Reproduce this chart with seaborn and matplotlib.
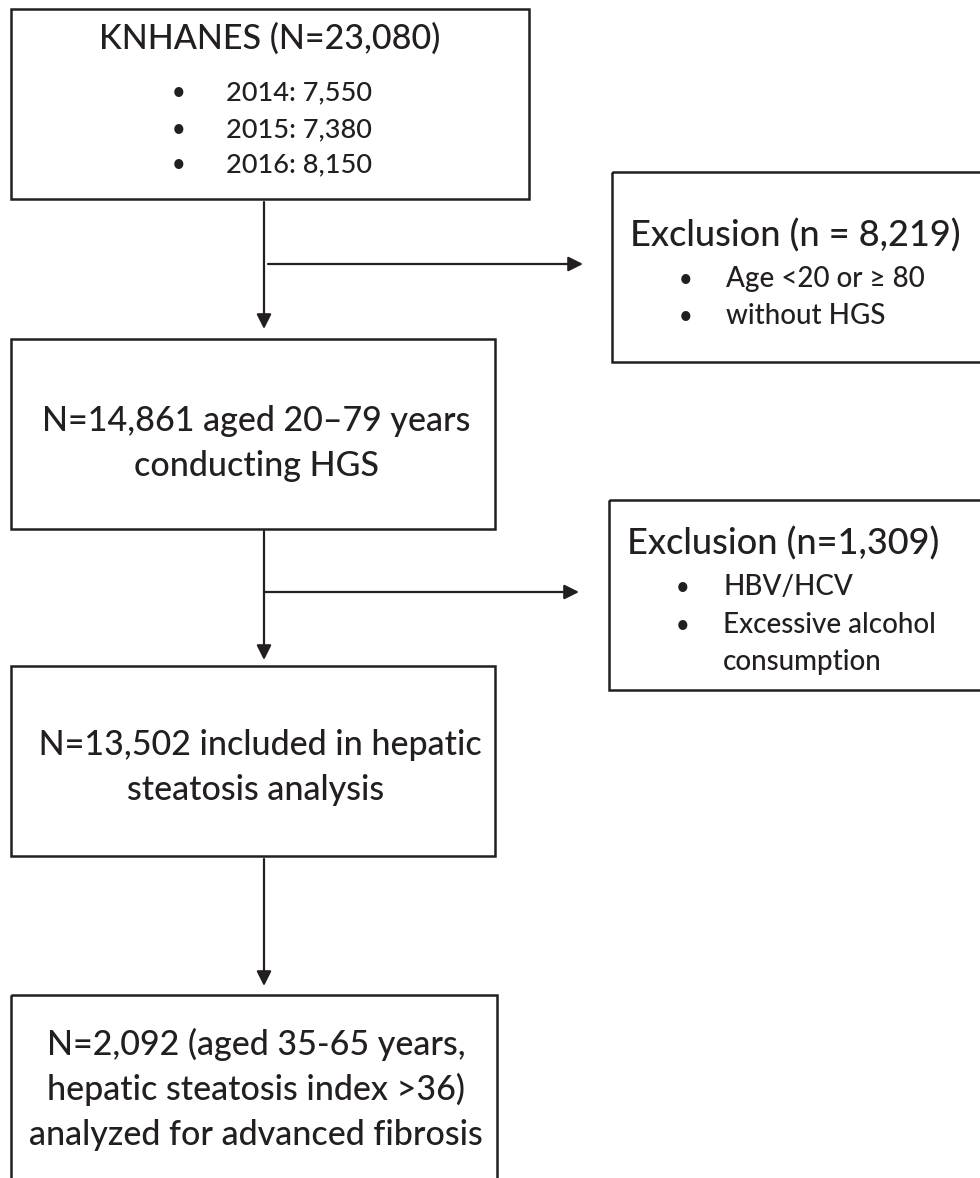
import matplotlib
matplotlib.use("Agg")
import matplotlib.pyplot as plt
from matplotlib.patches import Rectangle
import seaborn as sns

# texts of the flow chart
source_title = "KNHANES (N=23,080)"
source_years = ["2014: 7,550", "2015: 7,380", "2016: 8,150"]

step_lines = [
    ["N=14,861 aged 20\u201379 years", "conducting HGS"],
    [" N=13,502 included in hepatic", "steatosis analysis"],
    ["N=2,092 (aged 35-65 years,", "hepatic steatosis index >36)",
     "analyzed for advanced fibrosis"],
]

excl_titles = ["Exclusion (n = 8,219)", "Exclusion (n=1,309)"]
# each bullet item may wrap over several lines
excl_items = [
    [["Age <20 or \u2265 80"], ["without HGS"]],
    [["HBV/HCV"], ["Excessive alcohol", "consumption"]],
]

sns.set_theme(style="white")
plt.rcParams["font.family"] = ["Lato", "DejaVu Sans"]
plt.rcParams["font.weight"] = "medium"

INK = "#231f20"

fig = plt.figure(figsize=(9.8, 11.78), dpi=100)
ax = fig.add_axes([0, 0, 1, 1])
ax.set_xlim(0, 980)
ax.set_ylim(1178, 0)
ax.axis("off")


def box(x0, y0, x1, y1):
    ax.add_patch(Rectangle((x0, y0), x1 - x0, y1 - y0, fill=False,
                           edgecolor=INK, linewidth=1.8))


def arrow(x0, y0, x1, y1):
    ax.annotate("", xy=(x1, y1), xytext=(x0, y0),
                arrowprops=dict(arrowstyle="-|>", color=INK, lw=1.6,
                                mutation_scale=22, shrinkA=0, shrinkB=0))


# source box
box(11, 9, 529, 199)
ax.text(270, 49, source_title, ha="center", va="baseline", fontsize=24.5, color=INK)
for yb, label in zip([100, 137, 172], source_years):
    ax.text(172, yb, "\u2022", ha="left", va="baseline", fontsize=17, color=INK)
    ax.text(226, yb, label, ha="left", va="baseline", fontsize=19.5, color=INK)

# main steps
step_boxes = [(11, 339, 495, 529), (11, 666, 495, 856), (11, 995, 497, 1250)]
step_baselines = [[431, 476], [755, 800], [1055, 1100, 1145]]
for (x0, y0, x1, y1), lines, ybs in zip(step_boxes, step_lines, step_baselines):
    box(x0, y0, x1, y1)
    for yb, line in zip(ybs, lines):
        ax.text(256, yb, line, ha="center", va="baseline", fontsize=24.5, color=INK)

# exclusion boxes
excl_boxes = [(612, 172, 1000, 362), (609, 500, 1000, 690)]
excl_title_base = [247, 555]
excl_item_base = [[[287], [324]], [[595], [633, 670]]]
for (x0, y0, x1, y1), title, tb, items, ibs in zip(excl_boxes, excl_titles,
                                                  excl_title_base, excl_items,
                                                  excl_item_base):
    box(x0, y0, x1, y1)
    ax.text(x0 + 18, tb, title, ha="left", va="baseline", fontsize=26, color=INK)
    for item, ys in zip(items, ibs):
        ax.text(x0 + 67, ys[0], "\u2022", ha="left", va="baseline", fontsize=17, color=INK)
        for yb, line in zip(ys, item):
            ax.text(x0 + 114, yb, line, ha="left", va="baseline", fontsize=20, color=INK)

# connectors
arrow(264, 202, 264, 329)
arrow(268, 264, 583, 264)
arrow(264, 531, 264, 660)
arrow(264, 592, 579, 592)
arrow(264, 859, 264, 986)

fig.savefig("out.png", dpi=100)
